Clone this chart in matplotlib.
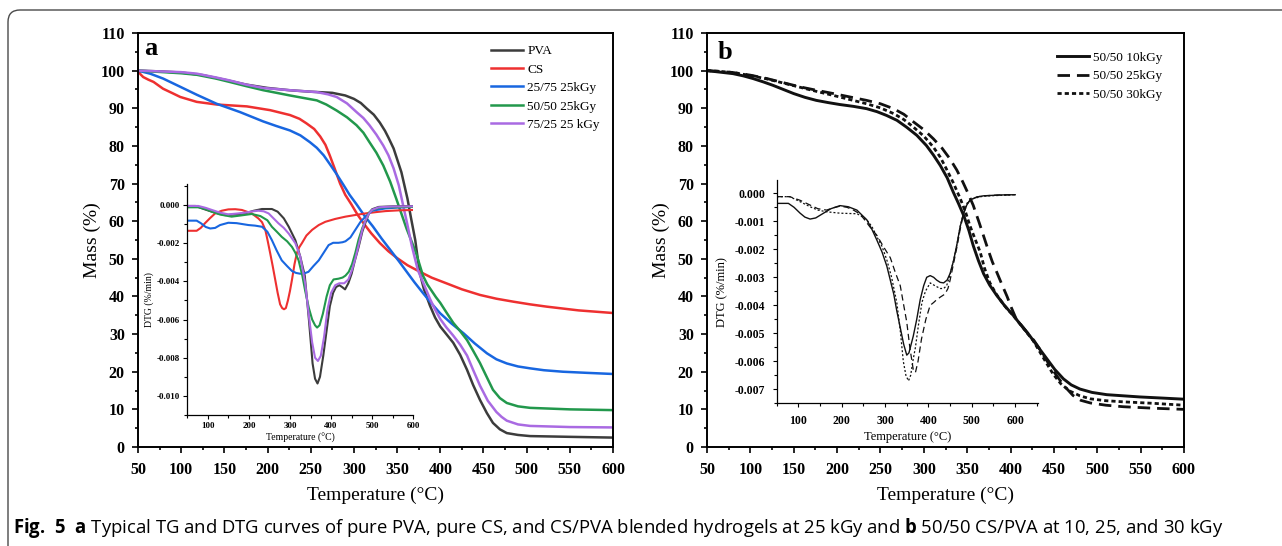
import matplotlib
matplotlib.use("Agg")
import matplotlib.pyplot as plt
from matplotlib.ticker import MultipleLocator, FormatStrFormatter
from matplotlib.path import Path
from matplotlib.patches import PathPatch

plt.rcParams["font.family"] = "Liberation Serif"
plt.rcParams["font.weight"] = "bold"
plt.rcParams["mathtext.fontset"] = "custom"
plt.rcParams["mathtext.bf"] = "Open Sans:bold"
plt.rcParams["mathtext.rm"] = "Open Sans"

# ---------------- panel a : TG curves ----------------
pva_t = [50, 75, 100, 125, 150, 175, 200, 225, 250, 275, 290, 300, 308, 315, 323, 330, 336,
         340, 346, 350, 355, 362, 366, 371, 376, 381, 388, 394, 400, 407, 415, 423, 431, 438,
         446, 454, 461, 469, 477, 490, 504, 550, 600]
pva_m = [100, 99.8, 99.5, 98.8, 97.6, 96.3, 95.4, 94.8, 94.4, 94.1, 93.4, 92.5, 91.4, 89.9,
         88.3, 86.2, 84, 82.2, 79.3, 76.5, 73, 66, 61, 55, 46.5, 42, 37.6, 34.4, 32, 30, 27.7,
         24.5, 20.5, 16.5, 12.5, 9, 6.4, 4.7, 3.7, 3.2, 2.9, 2.7, 2.5]

cs_t = [50, 53, 56, 62, 68, 79, 90, 99, 118, 141, 176, 203, 226, 237, 245, 254, 261, 267, 272,
        278, 284, 290, 297, 304, 311, 320, 330, 340, 350, 362, 376, 390, 407, 425, 446, 465,
        485, 504, 523, 560, 600]
cs_m = [100, 99, 98.3, 97.6, 97, 95.2, 94, 93, 91.7, 91, 90.5, 89.5, 88.2, 87.2, 86, 84.5,
        82.5, 80.3, 77.5, 73.8, 70, 67, 64.5, 61.8, 59.5, 56.8, 54.2, 52, 50.2, 48.3, 46.6, 45,
        43.5, 41.9, 40.4, 39.4, 38.6, 37.9, 37.3, 36.3, 35.6]

b2575_t = [50, 64, 79, 99, 118, 141, 168, 195, 210, 226, 238, 249, 257, 265, 272, 280, 288,
           295, 303, 312, 322, 332, 342, 352, 361, 370, 380, 390, 400, 413, 427, 440, 454, 465,
           477, 490, 504, 520, 542, 570, 600]
b2575_m = [100, 99.2, 97.9, 95.7, 93.6, 91.2, 89, 86.5, 85.3, 84.1, 82.8, 81, 79.5, 77.5, 75.2,
           72.5, 69.6, 67, 64.5, 61.5, 58.6, 55.4, 52.4, 49.4, 46.6, 43.8, 40.9, 38.1, 35.5,
           32.8, 30.2, 27.5, 24.9, 23.3, 22.2, 21.4, 20.9, 20.4, 20, 19.7, 19.4]

b5050_t = [50, 79, 100, 118, 140, 156, 175, 195, 226, 245, 257, 268, 280, 292, 303, 311, 318,
           326, 334, 342, 349, 355, 361, 367, 372, 380, 385, 390, 395, 400, 407, 415, 423, 431,
           438, 446, 454, 461, 469, 477, 490, 504, 550, 600]
b5050_m = [100, 99.6, 99.3, 98.9, 97.9, 97, 95.9, 94.8, 93.4, 92.6, 92.1, 91, 89.4, 87.6, 85.5,
           83.5, 81, 78.2, 74.8, 70.5, 66, 62, 58, 54.5, 51.5, 45.5, 43.2, 41.5, 39.8, 38.3,
           35.8, 33, 30.8, 28.4, 25.6, 22.3, 18.5, 15.2, 13, 11.7, 10.8, 10.4, 10, 9.8]

b7525_t = [50, 75, 100, 118, 140, 156, 175, 195, 226, 257, 270, 280, 292, 303, 311, 318, 326,
           334, 340, 346, 352, 357, 362, 367, 374, 380, 388, 394, 400, 407, 415, 423, 431, 438,
           446, 455, 465, 471, 477, 490, 504, 550, 600]
b7525_m = [100, 99.8, 99.6, 99.2, 98.2, 97.4, 96.3, 95.4, 94.8, 94.3, 93.7, 93, 91.3, 89, 87.4,
           85.5, 83, 80.1, 77.5, 74, 69.5, 64.2, 59, 53.5, 47, 43.8, 39.4, 36.5, 34, 31.8, 29.6,
           27.2, 24.3, 20.5, 16.3, 12.3, 9.3, 8, 7, 6, 5.6, 5.3, 5.2]

# ---------------- panel a : DTG inset ----------------
pva_dt = [50, 70, 93, 117, 142, 165, 191, 212, 232, 256, 270, 285, 297, 313, 325, 336, 346,
          355, 361, 367, 373, 381, 389, 397, 405, 412, 420, 427, 434, 442, 450, 458, 467, 476,
          484, 492, 500, 516, 550, 600]
pva_d = [-0.00005, -0.00005, -0.00023, -0.0004, -0.00053, -0.0005, -0.00044, -0.0003,
         -0.00021, -0.00021, -0.00035, -0.0007, -0.00114, -0.00184, -0.0027, -0.0037, -0.006,
         -0.0083, -0.0091, -0.00935, -0.009, -0.0079, -0.0066, -0.0053, -0.0046, -0.0043,
         -0.0042, -0.0043, -0.00442, -0.0041, -0.0036, -0.0029, -0.0022, -0.0014, -0.0009,
         -0.00045, -0.00022, -0.0001, -0.00007, -0.00006]

cs_dt = [50, 73, 83, 93, 105, 118, 134, 150, 167, 183, 207, 223, 232, 240, 246, 252, 258, 264,
         270, 276, 281, 285.5, 290, 295, 300, 305, 311, 317, 323, 329, 340, 354, 370, 386, 410,
         435, 460, 484, 510, 532, 565, 600]
cs_d = [-0.00135, -0.00135, -0.0012, -0.00096, -0.0007, -0.00044, -0.0003, -0.00023, -0.00022,
        -0.00026, -0.00044, -0.0007, -0.0009, -0.0013, -0.0019, -0.00254, -0.0032, -0.0039,
        -0.0046, -0.0052, -0.0054, -0.00546, -0.0054, -0.005, -0.0045, -0.0039, -0.0031,
        -0.0025, -0.0022, -0.002, -0.0016, -0.0013, -0.00105, -0.00088, -0.00073, -0.00061,
        -0.00052, -0.00044, -0.00037, -0.00032, -0.00028, -0.00026]

b2575_dt = [50, 73, 83, 95, 106, 118, 130, 150, 170, 199, 215, 232, 245, 256, 268, 280, 293,
            305, 315, 325, 335, 345, 357, 370, 382, 394, 405, 418, 428, 435, 447, 459, 471,
            484, 500, 532, 565, 600]
b2575_d = [-0.00082, -0.00082, -0.00095, -0.00115, -0.00123, -0.0012, -0.00105, -0.00093,
           -0.00095, -0.00105, -0.00108, -0.00114, -0.0014, -0.00184, -0.0024, -0.0029, -0.0032,
           -0.00346, -0.00356, -0.0036, -0.00358, -0.0035, -0.0032, -0.0029, -0.0025, -0.0021,
           -0.00198, -0.00198, -0.00195, -0.0019, -0.0017, -0.0013, -0.0009, -0.0006, -0.0003,
           -0.00018, -0.00013, -0.0001]

b5050_dt = [50, 77, 95, 110, 130, 158, 180, 207, 228, 245, 256, 268, 280, 293, 305, 313, 321,
            330, 337, 346, 354, 361, 366, 372, 380, 389, 397, 406, 418, 428, 435, 443, 451, 459,
            467, 476, 484, 492, 500, 516, 532, 600]
b5050_d = [-0.00012, -0.00012, -0.00022, -0.00035, -0.0005, -0.00061, -0.00055, -0.00047,
           -0.00058, -0.0008, -0.00114, -0.0014, -0.00167, -0.0019, -0.0022, -0.0025, -0.0029,
           -0.0037, -0.0045, -0.0054, -0.006, -0.0063, -0.00642, -0.0063, -0.0057, -0.0048,
           -0.0042, -0.0039, -0.00386, -0.0038, -0.0037, -0.0035, -0.0031, -0.0025, -0.0018,
           -0.0012, -0.0008, -0.0004, -0.00026, -0.00015, -0.00012, -0.0001]

b7525_dt = [50, 77, 95, 110, 130, 150, 170, 191, 210, 223, 236, 248, 260, 272, 285, 297, 313,
            325, 337, 346, 354, 361, 368, 375, 383, 391, 400, 410, 420, 432, 442, 451, 459, 467,
            476, 484, 492, 500, 516, 550, 600]
b7525_d = [-0.00005, -0.00005, -0.00015, -0.00026, -0.0004, -0.00049, -0.00045, -0.0004,
           -0.00033, -0.0003, -0.00033, -0.00044, -0.0007, -0.00096, -0.0012, -0.0015, -0.002,
           -0.0027, -0.0041, -0.0058, -0.0072, -0.008, -0.00817, -0.0079, -0.0069, -0.0055,
           -0.0046, -0.0042, -0.0041, -0.0041, -0.0039, -0.0034, -0.0028, -0.0021, -0.0013,
           -0.0008, -0.00045, -0.00025, -0.00012, -0.00008, -0.00007]

# ---------------- panel b : TG curves ----------------
k10_t = [50, 65, 80, 92, 103, 115, 126, 138, 150, 163, 176, 190, 203, 219, 234, 246, 257, 269,
         280, 292, 303, 311, 319, 327, 334, 340, 346, 352, 357, 363, 369, 376, 384, 393, 403,
         412, 422, 432, 442, 451, 461, 470, 480, 494, 511, 530, 549, 575, 600]
k10_m = [100, 99.6, 99.2, 98.6, 97.9, 97, 96.1, 95, 93.9, 92.9, 92.1, 91.5, 91, 90.5, 89.9,
         89.1, 88.1, 86.8, 85, 82.8, 80.1, 77.6, 74.8, 71.5, 67.7, 64.7, 61.5, 57.5, 53.5, 49.5,
         46, 43, 40.3, 37.6, 35, 32.4, 29.6, 26.5, 23.4, 20.6, 18.1, 16.5, 15.4, 14.5, 13.9,
         13.6, 13.3, 13, 12.7]

k25_t = [50, 65, 80, 100, 119, 138, 157, 176, 196, 215, 234, 250, 265, 277, 288, 300, 311, 321,
         330, 338, 345, 351, 357, 364, 369, 374, 379, 384, 390, 396, 401, 406, 412, 419, 427,
         434, 443, 453, 462, 472, 481, 492, 510, 530, 565, 600]
k25_m = [100, 99.8, 99.5, 98.8, 97.9, 96.8, 95.7, 94.8, 93.9, 93, 92.1, 91.2, 89.9, 88.4, 86.4,
         84.3, 81.9, 79.4, 76.6, 73.6, 70.4, 67.4, 64.2, 59.5, 56, 52.5, 49.2, 46.5, 43.2, 40,
         37, 34.3, 32.5, 30.5, 28.3, 25.9, 22.5, 19, 16.2, 13.7, 12.4, 11.7, 11.1, 10.7, 10.3,
         10.0]

k30_t = [50, 65, 80, 100, 119, 138, 157, 176, 196, 215, 234, 250, 265, 277, 288, 300, 311, 319,
         326, 334, 342, 348, 353, 359, 365, 370, 376, 383, 390, 396, 403, 414, 426, 437, 449,
         458, 468, 480, 492, 510, 530, 565, 600]
k30_m = [100, 99.8, 99.5, 98.7, 97.8, 96.7, 95.6, 94.5, 93.4, 92.3, 91.2, 90.1, 88.6, 87, 85,
         82.6, 79.7, 77, 73.9, 70.2, 66, 62.5, 58.9, 55.3, 51.8, 47.5, 43.7, 40.8, 38.5, 36.7,
         35, 31.8, 28.3, 24, 19.4, 16.8, 14.9, 13.6, 12.8, 12.3, 12, 11.6, 11.1]

# ---------------- panel b : DTG inset ----------------
k10_dt = [50, 77, 90, 104, 115, 127, 140, 158, 175, 196, 215, 235, 258, 270, 281, 293, 304,
          312, 320, 327, 335, 343, 350, 355, 360, 365, 373, 381, 389, 396, 404, 412, 419, 427,
          435, 443, 450, 458, 466, 473, 481, 489, 496, 512, 527, 565, 600]
k10_d = [-0.00036, -0.00036, -0.0005, -0.00071, -0.00085, -0.00092, -0.00088, -0.00071,
         -0.00055, -0.00044, -0.00048, -0.0006, -0.00095, -0.0013, -0.00167, -0.0021, -0.0026,
         -0.0031, -0.0036, -0.0042, -0.0048, -0.0054, -0.00578, -0.0057, -0.0054, -0.0051,
         -0.0045, -0.0038, -0.0033, -0.003, -0.00294, -0.003, -0.0031, -0.00318, -0.0032,
         -0.0031, -0.00286, -0.0024, -0.0018, -0.0012, -0.00071, -0.0004, -0.00024, -0.00013,
         -0.00009, -0.00006, -0.00005]

k25_dt = [50, 80, 104, 127, 145, 165, 180, 196, 212, 227, 240, 250, 265, 281, 296, 312, 323,
          335, 343, 350, 357, 365, 370, 376, 384, 394, 404, 412, 419, 428, 438, 445, 450, 458,
          466, 473, 481, 489, 496, 512, 527, 565, 600]
k25_d = [-0.00012, -0.00012, -0.00025, -0.00042, -0.00055, -0.0006, -0.00052, -0.00046, -0.0005,
         -0.0006, -0.00072, -0.00089, -0.0012, -0.0015, -0.0019, -0.0023, -0.0028, -0.0033,
         -0.004, -0.0046, -0.0055, -0.0063, -0.0064, -0.006, -0.0052, -0.0045, -0.004, -0.0039,
         -0.0038, -0.0037, -0.0036, -0.0034, -0.0031, -0.0025, -0.0019, -0.0013, -0.00073,
         -0.0004, -0.00024, -0.00013, -0.00009, -0.00006, -0.00005]

k30_dt = [50, 80, 104, 127, 145, 165, 196, 215, 235, 248, 258, 270, 281, 293, 304, 315, 327,
          335, 342, 348, 354, 359, 364, 370, 377, 385, 393, 404, 415, 427, 435, 442, 450, 458,
          466, 473, 481, 489, 500, 527, 600]
k30_d = [-0.00012, -0.00012, -0.0003, -0.00048, -0.0006, -0.00066, -0.00071, -0.00072,
         -0.00073, -0.00083, -0.00095, -0.0012, -0.00155, -0.0019, -0.00238, -0.003, -0.0039,
         -0.0049, -0.006, -0.0065, -0.0067, -0.0065, -0.006, -0.0055, -0.0047, -0.0039,
         -0.0035, -0.0032, -0.0033, -0.0034, -0.0034, -0.0033, -0.0029, -0.0024, -0.0018,
         -0.0012, -0.0007, -0.00035, -0.0002, -0.0001, -0.00005]

labels_a = ["PVA", "CS", "25/75 25kGy", "50/50 25kGy", "75/25 25 kGy"]
colors_a = ["#3c3c3c", "#ee3030", "#1866e0", "#22984c", "#a96ae2"]
labels_b = ["50/50 10kGy", "50/50 25kGy", "50/50 30kGy"]

caption = (r"$\mathbf{Fig.\ 5}$  $\mathbf{a}$ Typical TG and DTG curves of pure PVA, pure CS, "
           r"and CS/PVA blended hydrogels at 25 kGy and $\mathbf{b}$ 50/50 CS/PVA at 10, 25, "
           r"and 30 kGy")

W, H = 1282, 546


def box(x0, y0, x1, y1):
    """pixel box (origin top-left) -> figure rect"""
    return [x0 / W, 1 - y1 / H, (x1 - x0) / W, (y1 - y0) / H]


def style_main(ax):
    ax.set_xlim(50, 600)
    ax.set_ylim(0, 110)
    ax.xaxis.set_major_locator(MultipleLocator(50))
    ax.xaxis.set_minor_locator(MultipleLocator(25))
    ax.yaxis.set_major_locator(MultipleLocator(10))
    ax.yaxis.set_minor_locator(MultipleLocator(5))
    ax.tick_params(which="both", direction="out", width=1.2, top=False, right=False)
    ax.tick_params(which="major", length=4.5, labelsize=11.5, pad=5)
    ax.tick_params(axis="x", which="major", pad=6.5)
    ax.tick_params(which="minor", length=2.5)
    for s in ax.spines.values():
        s.set_linewidth(1.4)
    ax.set_xlabel("Temperature (°C)", fontsize=14, fontweight="normal", labelpad=6)
    ax.set_ylabel("Mass (%)", fontsize=14, fontweight="normal", labelpad=0)


def style_inset(ax, xlim, ylim, ystep, size, lsize, pad, xlpad, ylpad):
    ax.set_xlim(*xlim)
    ax.set_ylim(*ylim)
    ax.patch.set_alpha(0)
    ax.spines["top"].set_visible(False)
    ax.spines["right"].set_visible(False)
    for s in ("left", "bottom"):
        ax.spines[s].set_linewidth(0.9)
    ax.xaxis.set_major_locator(MultipleLocator(100))
    ax.xaxis.set_minor_locator(MultipleLocator(50))
    ax.yaxis.set_major_locator(MultipleLocator(ystep))
    ax.yaxis.set_minor_locator(MultipleLocator(ystep / 2))
    ax.yaxis.set_major_formatter(FormatStrFormatter("%.3f"))
    ax.tick_params(which="both", direction="out", width=0.8, top=False, right=False)
    ax.tick_params(which="major", length=3, labelsize=size, pad=pad)
    ax.tick_params(which="minor", length=2)
    ax.set_xlabel("Temperature (°C)", fontsize=lsize, labelpad=xlpad)
    ax.set_ylabel("DTG (%/min)", fontsize=lsize, labelpad=ylpad)


def legend_at(ax, x, y):
    ax.legend(loc="upper left", bbox_to_anchor=(x, y), frameon=False, borderpad=0,
              borderaxespad=0, handlelength=2.45, handletextpad=0.3, labelspacing=0.47,
              prop={"family": "Liberation Serif", "weight": "normal", "size": 9.5})


fig = plt.figure(figsize=(W / 100, H / 100), dpi=100)

# outer frame of the figure box
frame = Path([(8 / W, 0), (8 / W, 1 - 22 / H), (8 / W, 1 - 10 / H), (20 / W, 1 - 10 / H),
              (1, 1 - 10 / H)],
             [Path.MOVETO, Path.LINETO, Path.CURVE3, Path.CURVE3, Path.LINETO])
fig.add_artist(PathPatch(frame, transform=fig.transFigure, fill=False, lw=1.0,
                         edgecolor="#4a4a4a"))

# ---- panel a
axa = fig.add_axes(box(138, 33, 613, 447))
tg_a = [(pva_t, pva_m), (cs_t, cs_m), (b2575_t, b2575_m), (b5050_t, b5050_m), (b7525_t, b7525_m)]
for (t, m), c, lab in zip(tg_a, colors_a, labels_a):
    axa.plot(t, m, color=c, lw=1.8, label=lab)
style_main(axa)
axa.text(0.012, 0.947, "a", transform=axa.transAxes, fontsize=19, va="baseline")
legend_at(axa, 0.743, 0.971)

ina = fig.add_axes(box(187.2, 184, 413.3, 415))
dtg_a = [(pva_dt, pva_d), (cs_dt, cs_d), (b2575_dt, b2575_d), (b5050_dt, b5050_d),
         (b7525_dt, b7525_d)]
for (t, d), c in zip(dtg_a, colors_a):
    ina.plot(t, d, color=c, lw=1.5)
style_inset(ina, (50, 600), (-0.011, 0.0011), 0.002, 6.5, 7, 2, 2, 2)

# ---- panel b
axb = fig.add_axes(box(707, 33, 1184, 447))
axb.plot(k10_t, k10_m, color="#111111", lw=2.1, label=labels_b[0])
axb.plot(k25_t, k25_m, color="#111111", lw=2.0, dashes=(4.5, 2.5), label=labels_b[1])
axb.plot(k30_t, k30_m, color="#111111", lw=2.0, dashes=(1.5, 1.1), label=labels_b[2])
style_main(axb)
axb.text(0.022, 0.937, "b", transform=axb.transAxes, fontsize=19, va="baseline")
legend_at(axb, 0.733, 0.955)

inb = fig.add_axes(box(776.7, 180, 1037.7, 403.3))
inb.plot(k10_dt, k10_d, color="#111111", lw=1.0)
inb.plot(k25_dt, k25_d, color="#111111", lw=0.9, dashes=(5, 3))
inb.plot(k30_dt, k30_d, color="#111111", lw=0.9, dashes=(1.6, 1.6))
style_inset(inb, (50, 652), (-0.0075, 0.000475), 0.001, 8.5, 9, 5.5, 3, 4.5)

fig.text(13 / W, 1 - 533 / H, caption, family="Open Sans", fontweight="normal", fontsize=13.35,
         va="baseline", ha="left")

fig.savefig("out.png", dpi=100)
